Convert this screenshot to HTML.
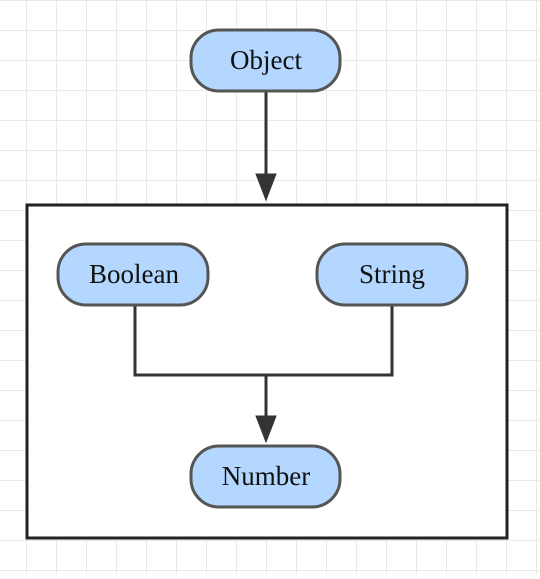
<!DOCTYPE html><html><head><style>body{margin:0}</style></head><body>
<svg width="540" height="574" xmlns="http://www.w3.org/2000/svg">
<defs><pattern id="g" width="30" height="30" patternUnits="userSpaceOnUse" x="-4" y="0"><path d="M0 0H30M0 0V30" stroke="#e9e9e9" stroke-width="2" fill="none"/></pattern></defs>
<rect width="540" height="574" fill="#fff"/>
<rect width="540" height="574" fill="url(#g)"/>
<rect x="27" y="205" width="480" height="333" fill="#fff" stroke="#222" stroke-width="3"/>
<g fill="#333" stroke="#333" stroke-width="3">
<line x1="266" y1="91" x2="266" y2="178"/>
<polygon points="256,174 276,174 266,200" stroke-width="1"/>
<polyline points="135,305 135,375 392,375 392,305" fill="none"/>
<line x1="266" y1="375" x2="266" y2="420"/>
<polygon points="256,416 276,416 266,442" stroke-width="1"/>
</g>
<g fill="#b3d7ff" stroke="#555" stroke-width="3">
<rect x="191" y="30" width="149" height="61" rx="28"/>
<rect x="58" y="244" width="150" height="61" rx="28"/>
<rect x="317" y="244" width="150" height="61" rx="28"/>
<rect x="191" y="446" width="149" height="61" rx="28"/>
</g>
<g font-family="Liberation Serif, serif" font-size="27" fill="#111" text-anchor="middle">
<text x="266" y="69">Object</text>
<text x="134" y="283">Boolean</text>
<text x="392" y="283">String</text>
<text x="266" y="485">Number</text>
</g>
</svg></body></html>
